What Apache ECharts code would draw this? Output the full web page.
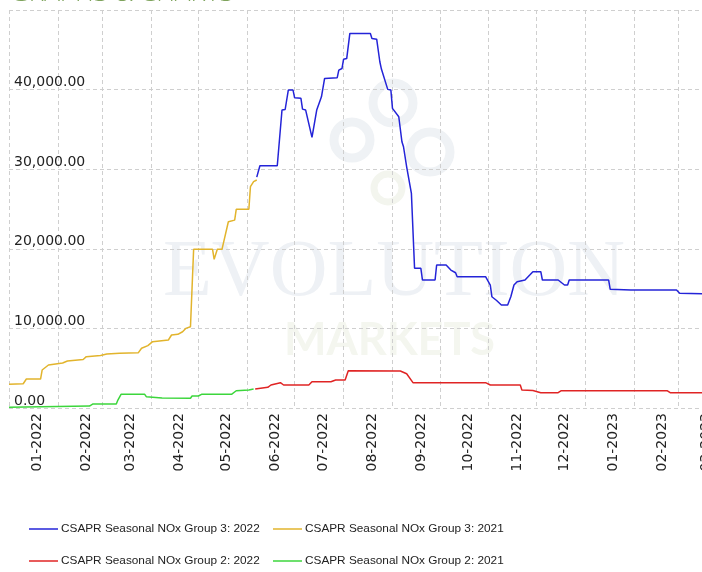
<!DOCTYPE html>
<html>
<head>
<meta charset="utf-8">
<script src="https://cdn.jsdelivr.net/npm/echarts@6/dist/echarts.min.js"></script>
<style>
  html, body { margin:0; padding:0; background:#fff; }
  #chart { width:702px; height:572px; }
</style>
</head>
<body>
<div id="chart"></div>
<script>
// CSAPR Seasonal NOx Group 3: 2022
var g3_2022_dates = ['2022-06-07','2022-06-09','2022-06-20','2022-06-23','2022-06-25','2022-06-27','2022-06-30',
  '2022-07-01','2022-07-05','2022-07-06','2022-07-08','2022-07-12','2022-07-15','2022-07-18','2022-07-20',
  '2022-07-28','2022-07-29','2022-07-31','2022-08-01','2022-08-03','2022-08-05','2022-08-18','2022-08-19',
  '2022-08-22','2022-08-24','2022-08-25','2022-08-26','2022-08-29','2022-08-31','2022-09-01','2022-09-05',
  '2022-09-07','2022-09-08','2022-09-10','2022-09-13','2022-09-15','2022-09-19','2022-09-20','2022-09-28',
  '2022-09-29','2022-10-05','2022-10-08','2022-10-11','2022-10-12','2022-10-30','2022-11-02','2022-11-03',
  '2022-11-06','2022-11-09','2022-11-13','2022-11-15','2022-11-17','2022-11-19','2022-11-24','2022-11-27',
  '2022-11-29','2022-12-04','2022-12-05','2022-12-15','2022-12-19','2022-12-21','2022-12-22','2023-01-16',
  '2023-01-17','2023-01-30','2023-02-28','2023-03-02','2023-03-20'];
var g3_2022_values = [29000,30430,30430,37430,37500,39940,39940,
  38970,38900,37550,37430,34000,37430,39100,41400,
  41500,42450,42650,43800,43900,47060,47060,46430,
  46340,43500,42580,42450,40030,39940,37640,36590,
  33450,32820,30300,26970,17550,17550,16080,16080,
  17960,17960,17330,16990,16490,16490,15450,13980,
  13500,12940,12940,13980,15450,15870,16080,16700,
  17120,17120,16080,16080,15450,15450,16080,16080,
  14910,14820,14820,14410,14320];

// CSAPR Seasonal NOx Group 3: 2021 (plotted on 2022 dates)
var g3_2021_dates = ['2022-01-01','2022-01-10','2022-01-12','2022-01-21','2022-01-22','2022-01-26','2022-02-04',
  '2022-02-07','2022-02-17','2022-02-19','2022-02-28','2022-03-04','2022-03-12','2022-03-24','2022-03-26',
  '2022-03-30','2022-04-02','2022-04-12','2022-04-14','2022-04-18','2022-04-21','2022-04-23','2022-04-26',
  '2022-04-28','2022-05-10','2022-05-11','2022-05-13','2022-05-16','2022-05-20','2022-05-24','2022-05-25',
  '2022-06-02','2022-06-03','2022-06-05','2022-06-07'];
var g3_2021_values = [2980,3050,3640,3640,4770,5400,5650,
  5900,6100,6450,6600,6780,6870,6950,7500,
  7830,8330,8540,9170,9250,9580,10000,10200,
  19930,19930,18680,19950,19950,23400,23600,24960,
  24960,27800,28430,28640];

// CSAPR Seasonal NOx Group 2: 2022
var g2_2022_dates = ['2022-06-06','2022-06-14','2022-06-16','2022-06-22','2022-06-24','2022-07-10','2022-07-12',
  '2022-07-24','2022-07-27','2022-08-02','2022-08-04','2022-09-06','2022-09-10','2022-09-14','2022-10-30',
  '2022-11-02','2022-11-21','2022-11-22','2022-11-29','2022-12-04','2022-12-15','2022-12-17','2023-02-22',
  '2023-02-24','2023-03-20'];
var g2_2022_values = [2390,2600,2890,3180,2890,2890,3300,
  3300,3520,3520,4690,4650,4300,3180,3180,
  2890,2890,2260,2200,1920,1920,2170,2170,
  1920,1920];

// CSAPR Seasonal NOx Group 2: 2021 (plotted on 2022 dates)
var g2_2021_dates = ['2022-01-01','2022-02-21','2022-02-23','2022-03-10','2022-03-11','2022-03-13','2022-03-28',
  '2022-03-29','2022-04-08','2022-04-26','2022-04-27','2022-05-01','2022-05-03','2022-05-22','2022-05-25',
  '2022-06-02','2022-06-05'];
var g2_2021_values = [90,250,500,500,1000,1720,1720,
  1420,1260,1220,1510,1510,1720,1720,2170,
  2260,2390];

// month boundaries (grid lines) and label months
var monthStarts = ['2022-01-01','2022-02-01','2022-03-01','2022-04-01','2022-05-01','2022-06-01','2022-07-01',
  '2022-08-01','2022-09-01','2022-10-01','2022-11-01','2022-12-01','2023-01-01','2023-02-01','2023-03-01','2023-04-01'];
var labelMonths = ['2022-01','2022-02','2022-03','2022-04','2022-05','2022-06','2022-07','2022-08',
  '2022-09','2022-10','2022-11','2022-12','2023-01','2023-02','2023-03'];

var names = ['CSAPR Seasonal NOx Group 3: 2022','CSAPR Seasonal NOx Group 3: 2021',
  'CSAPR Seasonal NOx Group 2: 2022','CSAPR Seasonal NOx Group 2: 2021'];
var colors = ['#2424d8','#e2b42c','#e02424','#3cd63c'];

function ts(s){ return new Date(s + 'T00:00:00Z').getTime(); }
function pairs(d, v){ return d.map(function(x, i){ return [ts(x), v[i]]; }); }

var chart = echarts.init(document.getElementById('chart'), null, {renderer:'canvas'});

// one legend per entry, laid out as a 2x2 block
function legendAt(name, left, top){
  return {
    data:[name], left:left, top:top, padding:0,
    icon:'rect', itemWidth:29, itemHeight:1.5,
    textStyle:{ color:'#222', fontSize:11.8, lineHeight:14, padding:[0,0,0,-2],
      fontFamily:"'Liberation Sans Narrow','Liberation Sans',sans-serif" }
  };
}

var option = {
  animation:false,
  backgroundColor:'#fff',
  graphic:[
    { type:'text', left:10, top:-19, z:0, silent:true,
      style:{ text:'GRAPHS & CHARTS', fill:'#7ea35c', font:"300 26px 'Open Sans', sans-serif" } },
    // faint watermark
    { type:'circle', z:0, silent:true, shape:{cx:393, cy:103, r:20}, style:{fill:'none', stroke:'#eff2f5', lineWidth:9} },
    { type:'circle', z:0, silent:true, shape:{cx:430, cy:152, r:20}, style:{fill:'none', stroke:'#eff2f5', lineWidth:9} },
    { type:'circle', z:0, silent:true, shape:{cx:352, cy:140, r:18}, style:{fill:'none', stroke:'#eff2f5', lineWidth:9} },
    { type:'circle', z:0, silent:true, shape:{cx:388, cy:188, r:14}, style:{fill:'none', stroke:'#f3f5ee', lineWidth:7} },
    { type:'text', z:0, silent:true, left:163, top:234,
      style:{ text:'EVOLUTION', fill:'#eef1f5', font:"80px 'Liberation Serif', serif" } },
    { type:'text', z:0, silent:true, left:284, top:318,
      style:{ text:'MARKETS', fill:'#f4f6ef', font:"bold 45px 'Lato', sans-serif" } }
  ],
  color:colors,
  grid:{ left:9, top:10, width:718, height:398, outerBoundsMode:'none', containLabel:false },
  legend:[
    legendAt(names[0], 29, 522),
    legendAt(names[1], 273, 522),
    legendAt(names[2], 29, 554),
    legendAt(names[3], 273, 554)
  ],
  xAxis:{
    type:'value',
    min:ts('2022-01-01'),
    max:ts('2023-04-01'),
    axisLine:{ show:false },
    axisTick:{ show:false, customValues:monthStarts.map(ts) },
    splitLine:{ show:true, lineStyle:{ color:'#cfcfcf', type:[4,3] } },
    axisLabel:{
      customValues:labelMonths.map(function(m){ return ts(m + '-19'); }),
      rotate:90, margin:5, color:'#222', fontSize:14, fontFamily:"'DejaVu Sans', sans-serif",
      hideOverlap:false,
      formatter:function(v){
        var d = new Date(v);
        var mm = ('0' + (d.getUTCMonth() + 1)).slice(-2);
        return mm + '-' + d.getUTCFullYear();
      }
    }
  },
  yAxis:{
    type:'value',
    min:0, max:50000, interval:10000,
    axisLine:{ show:false },
    axisTick:{ show:false },
    splitLine:{ show:true, lineStyle:{ color:'#cfcfcf', type:[4,3] } },
    axisLabel:{
      inside:true, margin:5, showMaxLabel:false, verticalAlign:'bottom',
      color:'#222', fontSize:14, fontFamily:"'DejaVu Sans', sans-serif",
      formatter:function(v){ return v.toLocaleString('en-US', {minimumFractionDigits:2, maximumFractionDigits:2}); }
    }
  },
  series:[
    { name:names[0], type:'line', symbol:'none', lineStyle:{width:1.5}, data:pairs(g3_2022_dates, g3_2022_values) },
    { name:names[1], type:'line', symbol:'none', lineStyle:{width:1.5}, data:pairs(g3_2021_dates, g3_2021_values) },
    { name:names[2], type:'line', symbol:'none', lineStyle:{width:1.5}, data:pairs(g2_2022_dates, g2_2022_values) },
    { name:names[3], type:'line', symbol:'none', lineStyle:{width:1.5}, data:pairs(g2_2021_dates, g2_2021_values) }
  ]
};
chart.setOption(option);
</script>
</body>
</html>
